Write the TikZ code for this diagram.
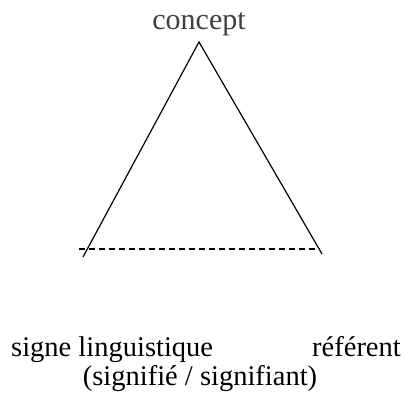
\documentclass[tikz,border=0pt]{standalone}
\usepackage{fontspec}
\setmainfont{Liberation Serif}
\tikzset{
  lbl/.style={inner sep=0pt, font=\fontsize{28.5}{31}\selectfont},
  side/.style={line width=1.2pt, black},
  base/.style={line width=2pt, dash pattern=on 6pt off 4pt},
}
\begin{document}
\begin{tikzpicture}[x=1pt,y=1pt]
\useasboundingbox (0,0) rectangle (404,403);
\coordinate (apex) at (199,361);
\coordinate (bl) at (83,146);
\coordinate (br) at (322,149);
\coordinate (dl) at (79,154);
\coordinate (dr) at (320,154);
\draw[side] (bl) -- (apex) -- (br);
\draw[base] (dl) -- (dr);
\node[lbl, anchor=base, text=black!75, font=\fontsize{30}{32}\selectfont] (concept) at (199,373) {concept};
\node[lbl, anchor=base west] (signe) at (11,46) {signe linguistique};
\node[lbl, anchor=base east] (ref) at (401,46) {référent};
\node[lbl, anchor=base] (sig) at (200,17) {(signifié / signifiant)};
\end{tikzpicture}
\end{document}
